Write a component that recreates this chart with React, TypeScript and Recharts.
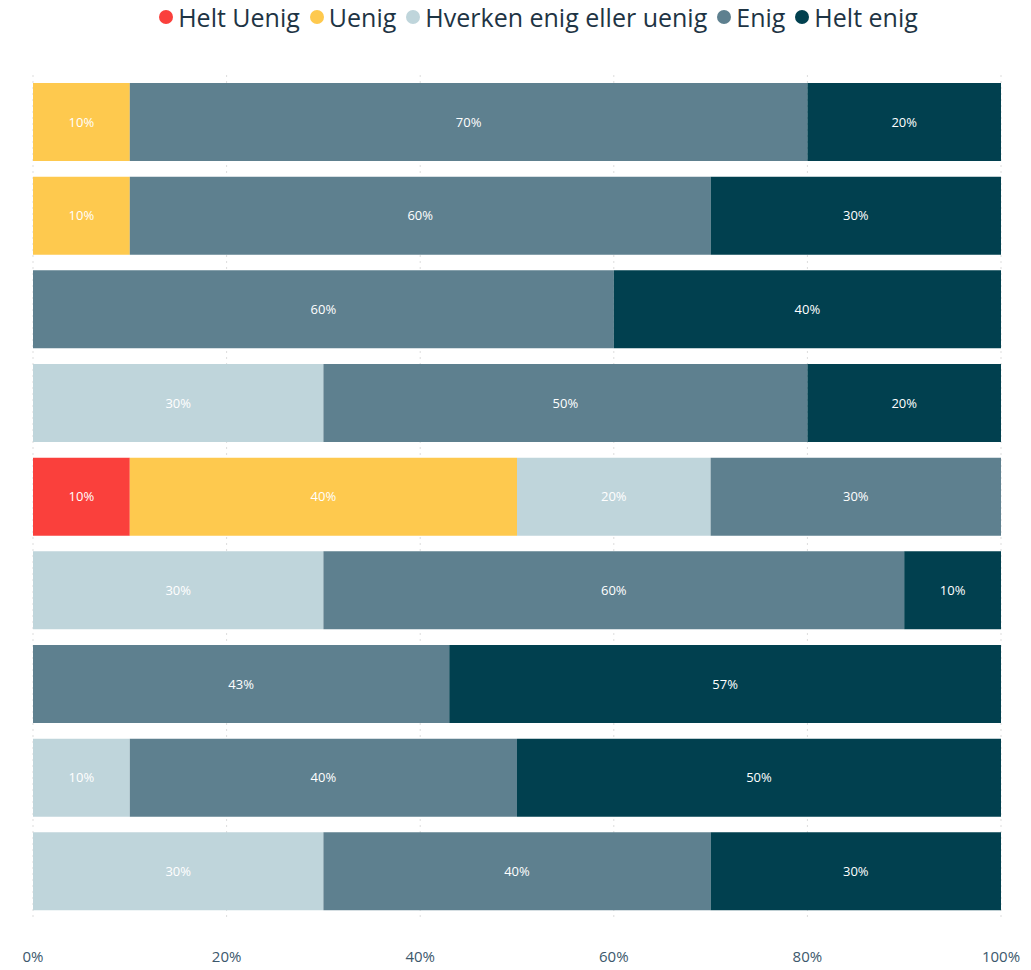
import React from "react";
import {
  Bar,
  BarChart,
  CartesianGrid,
  LabelList,
  XAxis,
  YAxis,
} from "recharts";

const questions = ["Q1", "Q2", "Q3", "Q4", "Q5", "Q6", "Q7", "Q8", "Q9"];
const seriesNames = ["Helt Uenig", "Uenig", "Hverken enig eller uenig", "Enig", "Helt enig"];
const seriesKeys = ["heltUenig", "uenig", "hverken", "enig", "heltEnig"];
const seriesColors = ["#FA403C", "#FEC94E", "#BFD5DB", "#5E808F", "#01404F"];

const heltUenig = [0, 0, 0, 0, 10, 0, 0, 0, 0];
const uenig = [10, 10, 0, 0, 40, 0, 0, 0, 0];
const hverken = [0, 0, 0, 30, 20, 30, 0, 10, 30];
const enig = [70, 60, 60, 50, 30, 60, 43, 40, 40];
const heltEnig = [20, 30, 40, 20, 0, 10, 57, 50, 30];

const xTicks = [0, 20, 40, 60, 80, 100];

const data = questions.map((q, i) => ({
  name: q,
  heltUenig: heltUenig[i],
  uenig: uenig[i],
  hverken: hverken[i],
  enig: enig[i],
  heltEnig: heltEnig[i],
}));

const font = "'Open Sans', 'Noto Sans', sans-serif";

function ChartLegend() {
  return (
    <div
      style={{
        position: "absolute",
        top: 0,
        left: 0,
        width: 1087,
        display: "flex",
        justifyContent: "center",
        alignItems: "center",
        fontFamily: font,
        fontSize: 25,
        color: "#1E3444",
      }}
    >
      {seriesNames.map((name, i) => (
        <div key={name} style={{ display: "flex", alignItems: "center", marginRight: 10 }}>
          <span
            style={{
              display: "inline-block",
              width: 14,
              height: 14,
              borderRadius: "50%",
              background: seriesColors[i],
              marginRight: 5,
            }}
          />
          <span>{name}</span>
        </div>
      ))}
    </div>
  );
}

export default function App() {
  return (
    <div style={{ position: "relative", margin: -8, width: 1031, height: 970, background: "#fff", overflow: "hidden" }}>
      <ChartLegend />
      <BarChart
        width={1031}
        height={970}
        data={data}
        layout="vertical"
        margin={{ top: 75, right: 30, bottom: 12, left: 33 }}
      >
        <CartesianGrid horizontal={false} stroke="#dddddd" strokeDasharray="2 4" />
        <XAxis
          type="number"
          domain={[0, 100]}
          ticks={xTicks}
          tickFormatter={(v) => `${v}%`}
          axisLine={false}
          tickLine={false}
          tickMargin={27}
          height={40}
          tick={{ fill: "#3C586C", fontSize: 15, fontFamily: font }}
        />
        <YAxis type="category" dataKey="name" hide />
        {seriesKeys.map((key, i) => (
          <Bar
            key={key}
            dataKey={key}
            name={seriesNames[i]}
            stackId="a"
            fill={seriesColors[i]}
            barSize={78}
            isAnimationActive={false}
          >
            <LabelList
              dataKey={key}
              position="center"
              formatter={(v: any) => (v ? `${v}%` : "")}
              style={{ fill: "#ffffff", fontSize: 13, fontFamily: font }}
            />
          </Bar>
        ))}
      </BarChart>
    </div>
  );
}
